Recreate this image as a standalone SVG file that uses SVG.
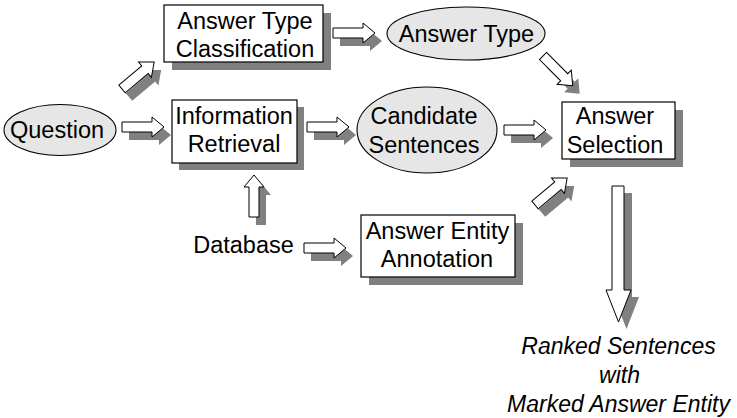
<svg xmlns="http://www.w3.org/2000/svg" xmlns:xlink="http://www.w3.org/1999/xlink" width="737" height="418" viewBox="0 0 737 418">
<style>
.t{font-family:"Liberation Sans",Arial,Helvetica,sans-serif;font-size:23.5px;fill:#000;text-anchor:middle}
.it{font-family:"Liberation Sans",Arial,Helvetica,sans-serif;font-size:23px;font-style:italic;fill:#000;text-anchor:middle}
.box{fill:#fff;stroke:#000;stroke-width:1.2}
.sh{fill:#808080;stroke:none}
.ell{fill:#e6e6e6;stroke:#000;stroke-width:1.1}
.ar{fill:#fff;stroke:#000;stroke-width:1}
</style>
<defs>
<path id="arr" d="M0,-5 H30 V-10 L42,0 L30,10 V5 H0 Z"/>
</defs>
<rect width="737" height="418" fill="#fff"/>

<g id="connectors">
  <!-- Question -> Information Retrieval -->
  <use xlink:href="#arr" href="#arr" class="sh" transform="translate(129,135)"/>
  <use xlink:href="#arr" href="#arr" class="ar" transform="translate(122,127)"/>
  <!-- Question -> Answer Type Classification -->
  <use xlink:href="#arr" href="#arr" class="sh" transform="translate(129,97) rotate(-40)"/>
  <use xlink:href="#arr" href="#arr" class="ar" transform="translate(122,89) rotate(-40)"/>
  <!-- ATC -> Answer Type -->
  <use xlink:href="#arr" href="#arr" class="sh" transform="translate(340,41)"/>
  <use xlink:href="#arr" href="#arr" class="ar" transform="translate(333,33)"/>
  <!-- IR -> Candidate Sentences -->
  <use xlink:href="#arr" href="#arr" class="sh" transform="translate(314,135)"/>
  <use xlink:href="#arr" href="#arr" class="ar" transform="translate(307,127)"/>
  <!-- Answer Type -> Answer Selection -->
  <use xlink:href="#arr" href="#arr" class="sh" transform="translate(550,64) rotate(45)"/>
  <use xlink:href="#arr" href="#arr" class="ar" transform="translate(543,56) rotate(45)"/>
  <!-- Candidate Sentences -> Answer Selection -->
  <use xlink:href="#arr" href="#arr" class="sh" transform="translate(511,138)"/>
  <use xlink:href="#arr" href="#arr" class="ar" transform="translate(504,130)"/>
  <!-- Database -> IR -->
  <use xlink:href="#arr" href="#arr" class="sh" transform="translate(261,225) rotate(-90)"/>
  <use xlink:href="#arr" href="#arr" class="ar" transform="translate(254,217) rotate(-90)"/>
  <!-- Database -> AEA -->
  <use xlink:href="#arr" href="#arr" class="sh" transform="translate(311,256)"/>
  <use xlink:href="#arr" href="#arr" class="ar" transform="translate(304,248)"/>
  <!-- AEA -> Answer Selection -->
  <use xlink:href="#arr" href="#arr" class="sh" transform="translate(542,213) rotate(-40)"/>
  <use xlink:href="#arr" href="#arr" class="ar" transform="translate(535,205) rotate(-40)"/>
  <!-- Answer Selection -> output -->
  <path class="sh" d="M620,193 H632 V297 H639 L626.5,329 L614,297 H620 Z"/>
  <path class="ar" d="M612,186 H624 V290 H631 L618.5,322 L606,290 H612 Z"/>
</g>

<g id="question">
  <ellipse class="ell" cx="60" cy="130" rx="56" ry="25.5"/>
  <text class="t" x="57" y="137.5">Question</text>
</g>

<g id="answer-type-classification">
  <rect class="sh" x="172" y="13" width="159" height="57"/>
  <rect class="box" x="164" y="5" width="159" height="57"/>
  <text class="t" x="245" y="29">Answer Type</text>
  <text class="t" x="245" y="56.5">Classification</text>
</g>

<g id="information-retrieval">
  <rect class="sh" x="179" y="107" width="125" height="63"/>
  <rect class="box" x="172" y="100" width="125" height="63"/>
  <text class="t" x="234" y="123.5">Information</text>
  <text class="t" x="234" y="152">Retrieval</text>
</g>

<g id="answer-type">
  <ellipse class="ell" cx="466" cy="33.5" rx="79" ry="26.5"/>
  <text class="t" x="466.5" y="41.5">Answer Type</text>
</g>

<g id="candidate-sentences">
  <ellipse class="ell" cx="427" cy="130" rx="70" ry="43"/>
  <text class="t" x="424" y="123.5">Candidate</text>
  <text class="t" x="424" y="152.5">Sentences</text>
</g>

<g id="answer-selection">
  <rect class="sh" x="570" y="110" width="113" height="57"/>
  <rect class="box" x="562" y="102" width="113" height="57"/>
  <text class="t" x="615" y="124">Answer</text>
  <text class="t" x="615" y="153">Selection</text>
</g>

<g id="database">
  <text class="t" x="243.5" y="253">Database</text>
</g>

<g id="answer-entity-annotation">
  <rect class="sh" x="369" y="223" width="154" height="62"/>
  <rect class="box" x="361" y="215" width="154" height="62"/>
  <text class="t" x="437.5" y="238.5">Answer Entity</text>
  <text class="t" x="437" y="266.5">Annotation</text>
</g>

<g id="output">
  <text class="it" x="618.5" y="354">Ranked Sentences</text>
  <text class="it" x="619.5" y="383">with</text>
  <text class="it" x="618.5" y="412">Marked Answer Entity</text>
</g>
</svg>
